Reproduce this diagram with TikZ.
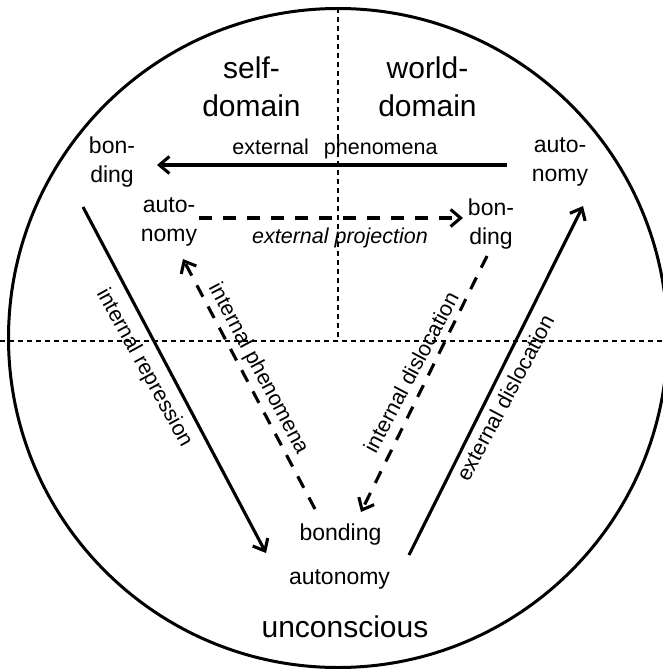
\documentclass[tikz,border=0pt]{standalone}
\usepackage{fontspec}
\setmainfont{Liberation Sans}
\usetikzlibrary{arrows.meta}
\begin{document}
\begin{tikzpicture}[x=1pt,y=-1pt,
  thindash/.style={line width=1.2pt, dash pattern=on 5pt off 4pt},
  bigtext/.style={font=\fontsize{30}{38}\selectfont, align=center, inner sep=0pt},
  lab/.style={font=\fontsize{23}{29}\selectfont, align=center, inner sep=0pt},
  small/.style={font=\fontsize{21.5}{25}\selectfont, inner sep=0pt},
  solidarrow/.style={line width=3.1pt, -{Straight Barb[length=10pt,width=17pt]}},
  dasharrow/.style={line width=3.1pt, dash pattern=on 13pt off 11pt, -{Straight Barb[length=10pt,width=17pt]}}
]
\useasboundingbox (0,0) rectangle (663,669);
\clip (0,0) rectangle (663,669);
\fill[white] (0,0) rectangle (663,669);
% circle and quadrant lines
\draw[line width=3pt] (338,338) circle[radius=329.5];
\draw[thindash] (0,341) -- (663,341);
\draw[thindash] (338,8) -- (338,341);
% headings
\node[bigtext] (self) at (251.5,86.5) {self-\\domain};
\node[bigtext] (world) at (427.5,86.5) {world-\\domain};
\node[bigtext, anchor=base] (uncon) at (345,637) {unconscious};
% pole labels
\node[lab] (b1) at (112,162) {bon-\\ding};
\node[lab] (a1) at (560,162) {auto-\\nomy};
\node[lab] (a2) at (169,222) {auto-\\nomy};
\node[lab] (b2) at (491,224) {bon-\\ding};
\node[lab, anchor=base] (b3) at (340.5,540) {bonding};
\node[lab, anchor=base] (a3) at (339.5,584) {autonomy};
% arrows
\draw[solidarrow] ([shift={(-53,3)}]a1.center) -- ([shift={(45,3)}]b1.center);
\draw[dasharrow] ([shift={(30,-4)}]a2.center) -- ([shift={(-28,-6)}]b2.center);
\draw[solidarrow] ([shift={(-29,45)}]b1.center) -- ([shift={(-73.5,-31)}]a3.base);
\draw[dasharrow] ([shift={(-25.5,-31)}]b3.base) -- ([shift={(14,37)}]a2.center);
\draw[dasharrow] ([shift={(-4,32)}]b2.center) -- ([shift={(20.5,-28)}]b3.base);
\draw[solidarrow] ([shift={(69.5,-29)}]a3.base) -- ([shift={(23,44)}]a1.center);
% arrow labels
\node[small, anchor=base] (extph) at (335,154) {external\hspace{15pt}phenomena};
\node[small, anchor=base, font=\fontsize{21.5}{25}\selectfont\itshape] (extpr) at (340,243) {external projection};
\node[small,rotate=-61] (intrep) at (144,368) {internal repression};
\node[small,rotate=-62] (intph) at (258,369) {internal phenomena};
\node[small,rotate=62] (intdis) at (411,372) {internal dislocation};
\node[small,rotate=62] (extdis) at (505,398) {external dislocation};
\end{tikzpicture}
\end{document}
